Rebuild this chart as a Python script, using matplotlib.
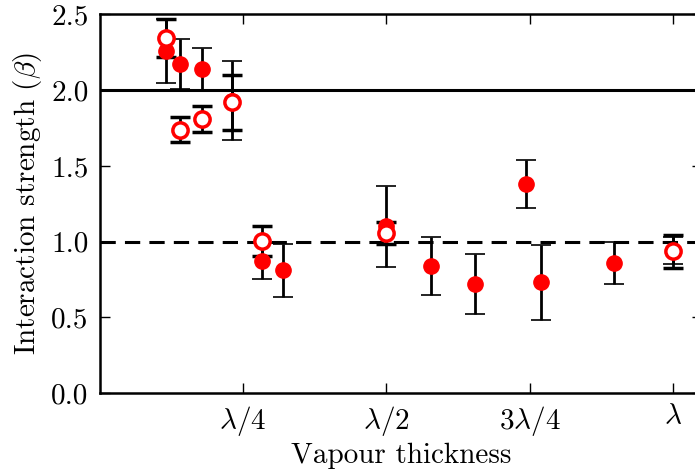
import numpy as np
import matplotlib
matplotlib.use("Agg")
import matplotlib.pyplot as plt

plt.rcParams['font.family'] = 'serif'
plt.rcParams['font.serif'] = ['cmr10']
plt.rcParams['mathtext.fontset'] = 'cm'
plt.rcParams['axes.formatter.use_mathtext'] = True

# thickness in units of lambda
x_filled = [0.116, 0.141, 0.179, 0.230, 0.2825, 0.320, 0.499, 0.577, 0.654, 0.744, 0.769, 0.897, 1.0]
y_filled = [2.26, 2.17, 2.14, 1.93, 0.87, 0.81, 1.10, 0.84, 0.72, 1.38, 0.73, 0.86, 0.94]
e_filled = [0.21, 0.165, 0.14, 0.26, 0.12, 0.175, 0.27, 0.19, 0.20, 0.16, 0.245, 0.14, 0.09]

x_open = [0.116, 0.141, 0.179, 0.230, 0.2825, 0.499, 1.0]
y_open = [2.345, 1.74, 1.81, 1.92, 1.005, 1.054, 0.935]
e_open = [0.125, 0.084, 0.086, 0.18, 0.098, 0.073, 0.11]

xticks = [0.25, 0.5, 0.75, 1.0]
xticklabels = [r'$\lambda/4$', r'$\lambda/2$', r'$3\lambda/4$', r'$\lambda$']

fig = plt.figure(figsize=(6.95, 4.75), dpi=100)
ax = fig.add_axes([0.1432, 0.1726, 0.867, 0.797])

ax.axhline(2.0, color='black', lw=2.2, zorder=1)
ax.axhline(1.0, color='black', lw=2.2, linestyle=(0, (5, 3)), zorder=1)

ax.errorbar(x_filled, y_filled, yerr=e_filled, fmt='o', color='red', ms=11,
            mec='red', ecolor='black', elinewidth=2, capsize=7, capthick=1.2, zorder=3)
ax.errorbar(x_open, y_open, yerr=e_open, fmt='o', color='red', ms=11,
            mfc='white', mec='red', mew=2.5, ecolor='black', elinewidth=2,
            capsize=7, capthick=3, zorder=3)

ax.set_xlim(0, 1.05)
ax.set_ylim(0, 2.5)
ax.set_xticks(xticks)
ax.set_xticklabels(xticklabels)
ax.set_yticks([0.0, 0.5, 1.0, 1.5, 2.0, 2.5])
ax.set_yticklabels(['0.0', '0.5', '1.0', '1.5', '2.0', '2.5'])
ax.tick_params(direction='in', top=True, right=True, length=7, width=1, labelsize=21, pad=8)
for s in ax.spines.values():
    s.set_linewidth(1.8)

ax.set_xlabel('Vapour thickness', fontsize=21, labelpad=3)
ax.set_ylabel(r'Interaction strength ($\beta$)', fontsize=21, labelpad=5)

fig.savefig('out.png', dpi=100)
